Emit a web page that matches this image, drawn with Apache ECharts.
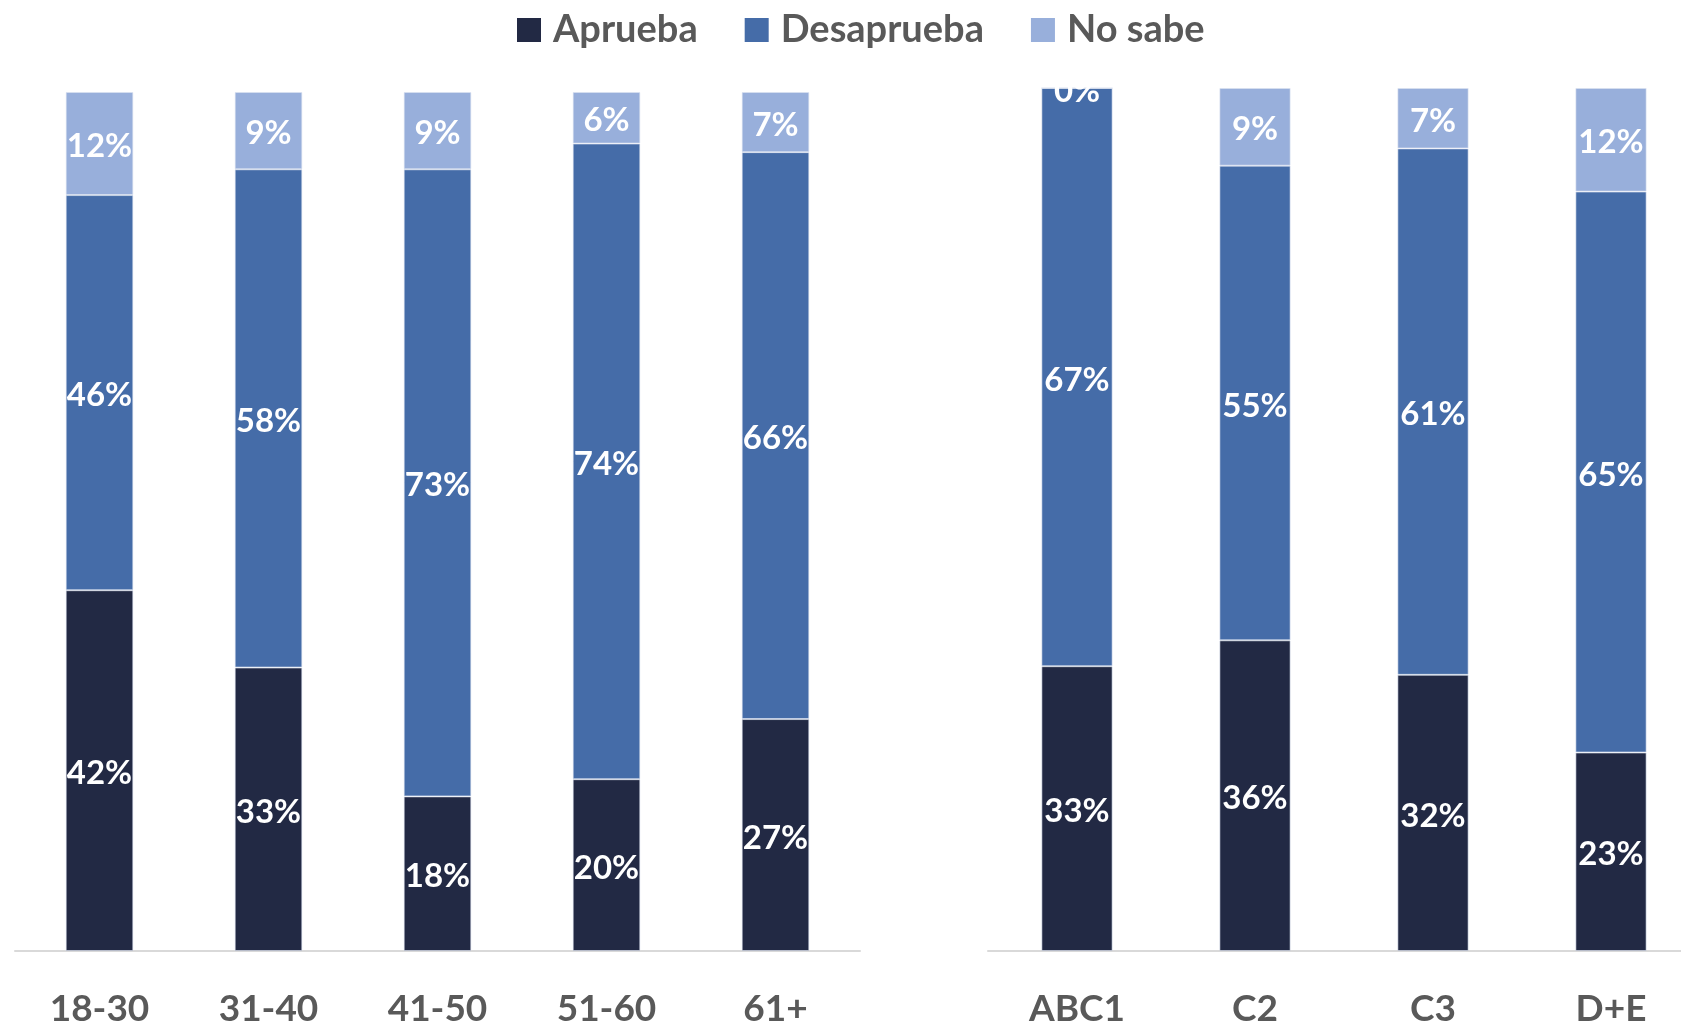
<!DOCTYPE html>
<html>
<head>
<meta charset="utf-8">
<script src="https://cdn.jsdelivr.net/npm/echarts@6/dist/echarts.min.js"></script>
<style>
html,body{margin:0;padding:0;background:#fff;overflow:hidden;}
#chart{width:1700px;height:1028px;}
</style>
</head>
<body>
<div id="chart"></div>
<script>
// Data
const ageCategories = ['18-30', '31-40', '41-50', '51-60', '61+'];
const ageAprueba    = [42, 33, 18, 20, 27];
const ageDesaprueba = [46, 58, 73, 74, 66];
const ageNoSabe     = [12, 9, 9, 6, 7];

const gseCategories = ['ABC1', 'C2', 'C3', 'D+E'];
const gseAprueba    = [33, 36, 32, 23];
const gseDesaprueba = [67, 55, 61, 65];
const gseNoSabe     = [0, 9, 7, 12];

const seriesNames = ['Aprueba', 'Desaprueba', 'No sabe'];
const colors = ['#222944', '#456CA8', '#98AFDB'];

const FONT = 'Lato';

function barSeries(name, data, idx, color, stack) {
  return {
    name: name,
    type: 'bar',
    stack: stack,
    xAxisIndex: idx,
    yAxisIndex: idx,
    data: data,
    barWidth: '40%',
    itemStyle: { color: color, borderColor: 'rgba(220,226,240,0.6)', borderWidth: 1 },
    label: {
      show: true,
      position: 'inside',
      offset: [0, 3],
      formatter: '{c}%',
      color: '#ffffff',
      fontFamily: FONT,
      fontWeight: 'bold',
      fontSize: 33
    },
    emphasis: { disabled: true },
    animation: false
  };
}

const chart = echarts.init(document.getElementById('chart'), null, { renderer: 'canvas' });

const xAxisCommon = {
  type: 'category',
  axisTick: { show: false },
  axisLine: { show: true, lineStyle: { color: '#D9D9D9', width: 2 } },
  axisLabel: {
    color: '#595959',
    fontFamily: FONT,
    fontWeight: 'bold',
    fontSize: 37,
    margin: 40
  }
};
const yAxisCommon = {
  type: 'value',
  min: 0,
  max: 100,
  show: false,
  splitLine: { show: false }
};

chart.setOption({
  backgroundColor: '#ffffff',
  animation: false,
  legend: {
    data: seriesNames,
    left: 512,
    top: 6,
    itemWidth: 24,
    itemHeight: 24,
    itemGap: 47,
    icon: 'rect',
    itemStyle: { borderWidth: 0 },
    textStyle: {
      color: '#595959',
      fontFamily: FONT,
      fontWeight: 'bold',
      fontSize: 38,
      padding: [0, 0, 0, 7]
    }
  },
  grid: [
    { left: 15, width: 845, top: 92, bottom: 75 },
    { left: 988, width: 712, top: 88, bottom: 74 }
  ],
  xAxis: [
    Object.assign({ gridIndex: 0, data: ageCategories }, xAxisCommon),
    Object.assign({ gridIndex: 1, data: gseCategories }, xAxisCommon)
  ],
  yAxis: [
    Object.assign({ gridIndex: 0 }, yAxisCommon),
    Object.assign({ gridIndex: 1 }, yAxisCommon)
  ],
  series: [
    barSeries(seriesNames[0], ageAprueba, 0, colors[0], 'age'),
    barSeries(seriesNames[1], ageDesaprueba, 0, colors[1], 'age'),
    barSeries(seriesNames[2], ageNoSabe, 0, colors[2], 'age'),
    barSeries(seriesNames[0], gseAprueba, 1, colors[0], 'gse'),
    barSeries(seriesNames[1], gseDesaprueba, 1, colors[1], 'gse'),
    barSeries(seriesNames[2], gseNoSabe, 1, colors[2], 'gse')
  ]
});
</script>
</body>
</html>
